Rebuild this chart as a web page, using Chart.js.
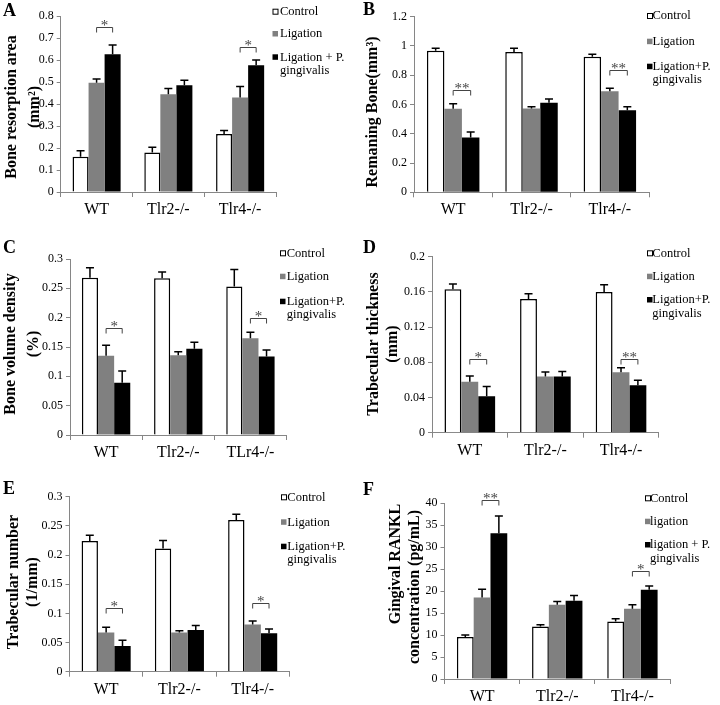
<!DOCTYPE html>
<html>
<head>
<meta charset="utf-8">
<script src="https://cdn.jsdelivr.net/npm/chart.js@4.4.0/dist/chart.umd.min.js"></script>
<style>
  body { margin: 0; background: #fff; }
  #fig { position: relative; width: 720px; height: 705px; }
  #fig canvas { position: absolute; }
</style>
</head>
<body>
<div id="fig">
  <canvas id="cA" width="360" height="235" style="left:0;top:0"></canvas>
  <canvas id="cB" width="360" height="235" style="left:360px;top:0"></canvas>
  <canvas id="cC" width="360" height="235" style="left:0;top:235px"></canvas>
  <canvas id="cD" width="360" height="235" style="left:360px;top:235px"></canvas>
  <canvas id="cE" width="360" height="235" style="left:0;top:470px"></canvas>
  <canvas id="cF" width="360" height="235" style="left:360px;top:470px"></canvas>
</div>
<script>
// categories
const groups = ['WT', 'Tlr2-/-', 'Tlr4-/-'];
const groupsC = ['WT', 'Tlr2-/-', 'TLr4-/-'];

// A: bone resorption area (mm2)
const resCtrl = [0.16, 0.18, 0.264],   resCtrlErr = [0.028, 0.023, 0.016];
const resLig  = [0.497, 0.444, 0.429], resLigErr  = [0.017, 0.027, 0.05];
const resPg   = [0.626, 0.485, 0.576], resPgErr   = [0.042, 0.023, 0.024];
const resSig  = [[0, 0.75, '*'], [2, 0.66, '*']];

// B: remaining bone (mm3)
const remCtrl = [0.967, 0.958, 0.926], remCtrlErr = [0.018, 0.027, 0.018];
const remLig  = [0.571, 0.573, 0.69],  remLigErr  = [0.034, 0.011, 0.021];
const remPg   = [0.374, 0.612, 0.561], remPgErr   = [0.038, 0.026, 0.023];
const remSig  = [[0, 0.702, '**'], [2, 0.838, '**']];

// C: bone volume density
const bvdCtrl = [0.268, 0.267, 0.253], bvdCtrlErr = [0.017, 0.011, 0.029];
const bvdLig  = [0.135, 0.136, 0.165], bvdLigErr  = [0.018, 0.006, 0.01];
const bvdPg   = [0.089, 0.147, 0.134], bvdPgErr   = [0.02, 0.011, 0.011];
const bvdSig  = [[0, 0.182, '*'], [2, 0.199, '*']];

// D: trabecular thickness (mm)
const thkCtrl = [0.163, 0.152, 0.16],    thkCtrlErr = [0.006, 0.006, 0.008];
const thkLig  = [0.058, 0.064, 0.0687],  thkLigErr  = [0.0065, 0.005, 0.005];
const thkPg   = [0.0415, 0.064, 0.054],  thkPgErr   = [0.011, 0.0055, 0.0056];
const thkSig  = [[0, 0.084, '*'], [2, 0.084, '**']];

// E: trabecular number (1/mm)
const numCtrl = [0.224, 0.211, 0.26],   numCtrlErr = [0.01, 0.014, 0.01];
const numLig  = [0.067, 0.067, 0.081],  numLigErr  = [0.009, 0.003, 0.006];
const numPg   = [0.044, 0.0714, 0.066], numPgErr   = [0.01, 0.0076, 0.007];
const numSig  = [[0, 0.11, '*'], [2, 0.118, '*']];

// F: gingival RANKL (pg/mL)
const rnkCtrl = [9.55, 11.97, 13.1], rnkCtrlErr = [0.45, 0.38, 0.6];
const rnkLig  = [18.56, 16.9, 16.0], rnkLigErr  = [1.9, 0.75, 0.9];
const rnkPg   = [33.2, 17.8, 20.3],  rnkPgErr   = [3.9, 1.2, 0.9];
const rnkSig  = [[0, 40.7, '**'], [2, 24.7, '*']];

// legend texts
const legendSpaced = [['Control'], ['Ligation'], ['Ligation + P.', 'gingivalis']];
const legendTight  = [['Control'], ['Ligation'], ['Ligation+P.', 'gingivalis']];
const legendLower  = [['Control'], ['ligation'], ['ligation + P.', 'gingivalis']];

const SERIF = '"Liberation Serif", "Times New Roman", serif';
const AXIS = '#868686';
const W = 360, H = 235;

function makePanel(id, p) {
  const box = p.box;
  const decor = {
    id: 'decor',
    afterDatasetsDraw(chart) {
      const ctx = chart.ctx, y = chart.scales.y;
      ctx.save();
      ctx.strokeStyle = '#000';
      ctx.lineWidth = 1.5;
      p.errs.forEach((err, d) => {
        chart.getDatasetMeta(d).data.forEach((bar, i) => {
          const v = chart.data.datasets[d].data[i];
          const y0 = y.getPixelForValue(v), y1 = y.getPixelForValue(v + err[i]);
          ctx.beginPath();
          ctx.moveTo(bar.x, y0); ctx.lineTo(bar.x, y1);
          ctx.moveTo(bar.x - 4, y1); ctx.lineTo(bar.x + 4, y1);
          ctx.stroke();
        });
      });
      ctx.lineWidth = 1;
      ctx.strokeStyle = '#444';
      ctx.fillStyle = '#444';
      ctx.font = '15px ' + SERIF;
      ctx.textAlign = 'center';
      ctx.textBaseline = 'alphabetic';
      p.sig.forEach(([i, v, mark]) => {
        const a = chart.getDatasetMeta(1).data[i].x, b = chart.getDatasetMeta(2).data[i].x;
        const py = Math.round(y.getPixelForValue(v)) + 0.5;
        ctx.beginPath();
        ctx.moveTo(a, py + 5); ctx.lineTo(a, py); ctx.lineTo(b, py); ctx.lineTo(b, py + 5);
        ctx.stroke();
        ctx.fillText(mark, (a + b) / 2, py + 2);
      });
      ctx.restore();
    },
    afterDraw(chart) {
      const ctx = chart.ctx;
      ctx.save();
      ctx.fillStyle = '#000';
      // panel letter
      ctx.font = 'bold 18px ' + SERIF;
      ctx.textAlign = 'left';
      ctx.textBaseline = 'alphabetic';
      ctx.fillText(p.letter, 3, p.letterY);
      // axis title
      ctx.font = 'bold 16px ' + SERIF;
      ctx.textAlign = 'center';
      p.title.forEach(([t, x, cy]) => {
        ctx.save();
        ctx.translate(x, cy || p.titleY);
        ctx.rotate(-Math.PI / 2);
        ctx.fillText(t, 0, 0);
        ctx.restore();
      });
      // legend
      const L = p.legend;
      ctx.font = '12.5px ' + SERIF;
      ctx.textAlign = 'left';
      ctx.textBaseline = 'middle';
      L.texts.forEach((lines, k) => {
        const ry = L.rows[k];
        const ds = chart.data.datasets[k];
        ctx.fillStyle = ds.backgroundColor;
        ctx.fillRect(L.sx, ry - 3, 5.5, 5.5);
        if (k === 0) {
          ctx.strokeStyle = '#000';
          ctx.lineWidth = 1;
          ctx.strokeRect(L.sx + 0.5, ry - 2.5, 5, 5);
        }
        ctx.fillStyle = '#000';
        lines.forEach((t, j) => ctx.fillText(t, L.tx, ry + j * L.gap));
      });
      ctx.restore();
    }
  };

  return new Chart(document.getElementById(id), {
    type: 'bar',
    data: {
      labels: p.labels,
      datasets: [
        { label: 'Control', data: p.means[0], backgroundColor: '#ffffff', borderColor: '#000', borderWidth: 1.5 },
        { label: 'Ligation', data: p.means[1], backgroundColor: '#808080', borderWidth: 0 },
        { label: 'Ligation + P. gingivalis', data: p.means[2], backgroundColor: '#000000', borderWidth: 0 }
      ]
    },
    options: {
      responsive: false,
      animation: false,
      categoryPercentage: 0.67,
      barPercentage: 1,
      layout: { padding: { left: 0, top: box.top, right: W - box.right, bottom: 0 } },
      plugins: { legend: { display: false }, tooltip: { enabled: false } },
      scales: {
        x: {
          grid: { offset: true, drawOnChartArea: false, color: AXIS, tickLength: 5 },
          border: { color: AXIS },
          ticks: { color: '#000', font: { family: SERIF, size: 16 }, padding: 3 },
          afterFit: s => { s.height = H - box.zero; }
        },
        y: {
          min: 0,
          max: p.max,
          grid: { drawOnChartArea: false, color: AXIS, tickLength: 4 },
          border: { color: AXIS },
          ticks: {
            stepSize: p.step, color: '#000', font: { family: SERIF, size: 12 }, padding: 3,
            callback: v => String(+v.toFixed(3))
          },
          afterFit: s => { s.width = box.x; }
        }
      }
    },
    plugins: [decor]
  });
}

makePanel('cA', {
  labels: groups, means: [resCtrl, resLig, resPg], errs: [resCtrlErr, resLigErr, resPgErr], sig: resSig,
  max: 0.8, step: 0.1, box: { x: 60.7, top: 16, zero: 192, right: 276 },
  letter: 'A', letterY: 16,
  title: [['Bone resorption area', 16], ['(mm²)', 39]], titleY: 107,
  legend: { texts: legendSpaced, sx: 272.5, tx: 280, rows: [11.7, 34, 57.3], gap: 13.7 }
});

makePanel('cB', {
  labels: groups, means: [remCtrl, remLig, remPg], errs: [remCtrlErr, remLigErr, remPgErr], sig: remSig,
  max: 1.2, step: 0.2, box: { x: 54, top: 16.7, zero: 192.3, right: 289 },
  letter: 'B', letterY: 15,
  title: [['Remaning Bone(mm³)', 16.5]], titleY: 112,
  legend: { texts: legendTight, sx: 287, tx: 292.5, rows: [16, 41.7, 66.7], gap: 13.5 }
});

makePanel('cC', {
  labels: groupsC, means: [bvdCtrl, bvdLig, bvdPg], errs: [bvdCtrlErr, bvdLigErr, bvdPgErr], sig: bvdSig,
  max: 0.3, step: 0.05, box: { x: 70, top: 24, zero: 200, right: 286.5 },
  letter: 'C', letterY: 17.5,
  title: [['Bone volume density', 15], ['(%)', 38]], titleY: 109,
  legend: { texts: legendTight, sx: 280, tx: 286.7, rows: [18.3, 41.7, 66.7], gap: 13.5 }
});

makePanel('cD', {
  labels: groups, means: [thkCtrl, thkLig, thkPg], errs: [thkCtrlErr, thkLigErr, thkPgErr], sig: thkSig,
  max: 0.2, step: 0.04, box: { x: 72, top: 21.7, zero: 197.7, right: 298.8 },
  letter: 'D', letterY: 17.5,
  title: [['Trabecular thickness', 18], ['(mm)', 37]], titleY: 109,
  legend: { texts: legendTight, sx: 287, tx: 292.3, rows: [18.3, 41.7, 65], gap: 13.3 }
});

makePanel('cE', {
  labels: groups, means: [numCtrl, numLig, numPg], errs: [numCtrlErr, numLigErr, numPgErr], sig: numSig,
  max: 0.3, step: 0.05, box: { x: 69.5, top: 26.7, zero: 201.7, right: 289.3 },
  letter: 'E', letterY: 24,
  title: [['Trabecular number', 18], ['(1/mm)', 37]], titleY: 112,
  legend: { texts: legendTight, sx: 281, tx: 287.3, rows: [27.3, 52.3, 76.7], gap: 13.3 }
});

makePanel('cF', {
  labels: groups, means: [rnkCtrl, rnkLig, rnkPg], errs: [rnkCtrlErr, rnkLigErr, rnkPgErr], sig: rnkSig,
  max: 40, step: 5, box: { x: 84.5, top: 33.3, zero: 209, right: 310 },
  letter: 'F', letterY: 25,
  title: [['Gingival RANKL', 40, 94], ['concentration (pg/mL)', 59, 117]], titleY: 105,
  legend: { texts: legendLower, sx: 285, tx: 290, rows: [28.3, 51.7, 75], gap: 13.3 }
});
</script>
</body>
</html>
